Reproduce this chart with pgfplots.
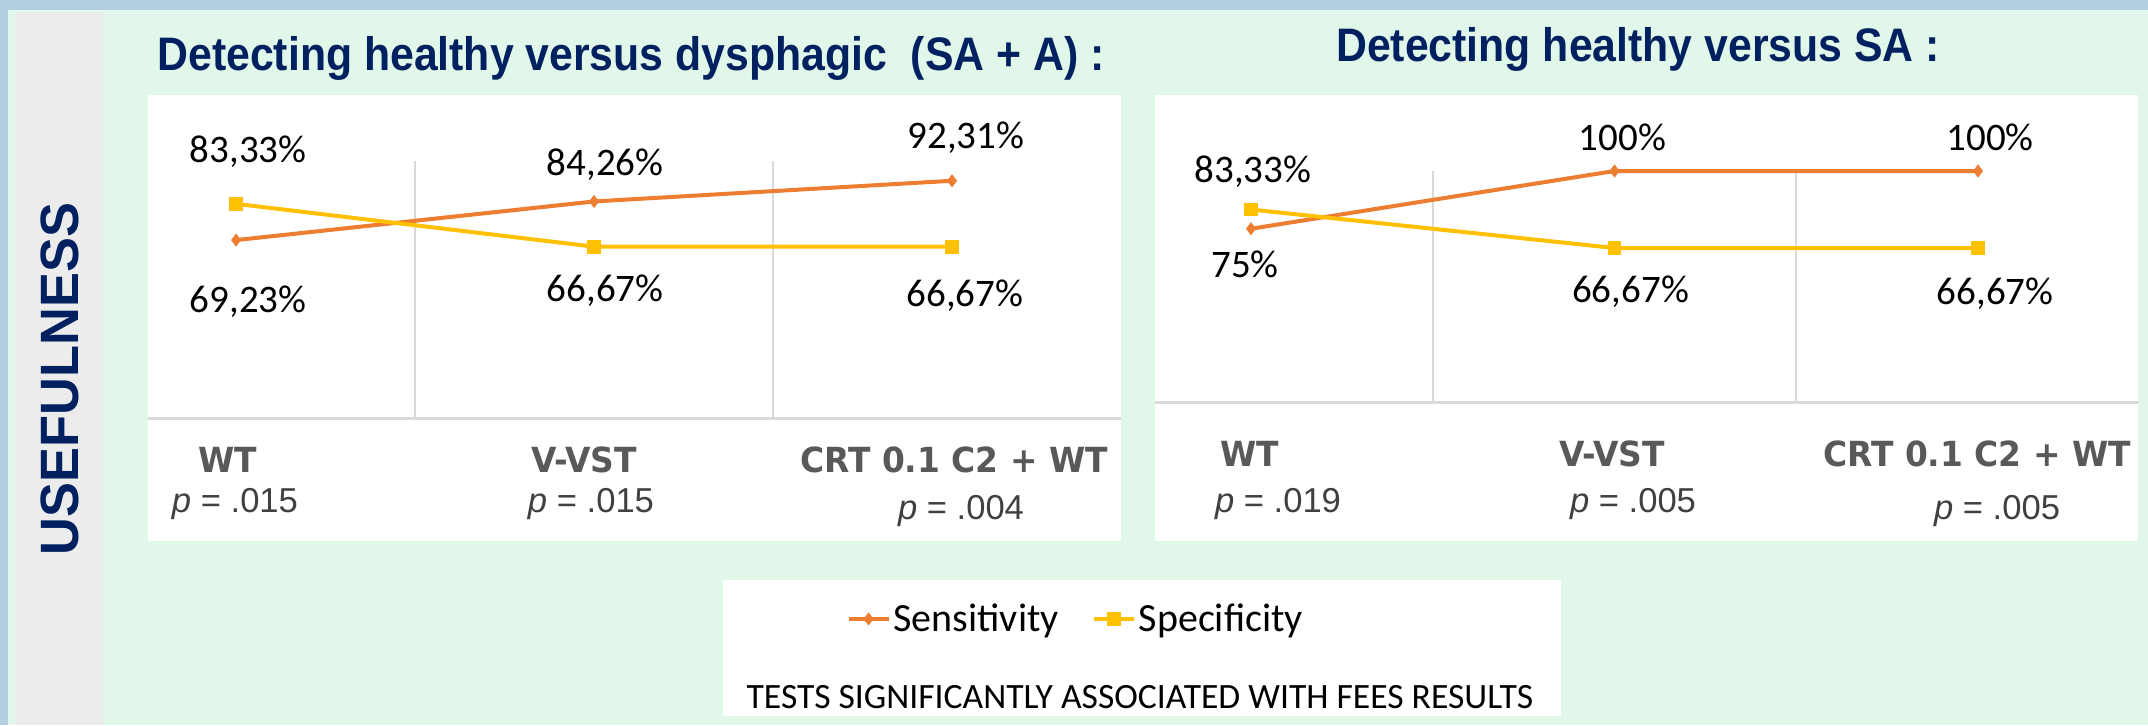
\documentclass[border=0pt]{standalone}
\usepackage{fontspec}
\setmainfont{Carlito}
\newfontfamily\titlefont[FakeStretch=0.91]{Liberation Sans}
\newfontfamily\sidefont[FakeStretch=0.97]{Liberation Sans}
\newfontfamily\pfont{Liberation Sans}
\newfontfamily\catfont[FakeStretch=0.95]{DejaVu Sans}
\usepackage{pgfplots}
\pgfplotsset{compat=1.18}

\definecolor{bgmint}{RGB}{224,247,234}
\definecolor{bandblue}{RGB}{178,208,226}
\definecolor{stripgray}{RGB}{236,236,236}
\definecolor{navy}{RGB}{0,32,96}
\definecolor{sensorange}{RGB}{237,125,49}
\definecolor{specyellow}{RGB}{255,192,0}
\definecolor{axgray}{RGB}{217,217,217}
\definecolor{catgray}{RGB}{89,89,89}
\definecolor{pgray}{RGB}{64,64,64}

\pgfplotsset{
  panel/.style={
    scale only axis, clip=false,
    ymin=0, ymax=100,
    axis x line*=bottom, axis y line=none,
    axis line style={draw=axgray, line width=1.5pt, -},
    xtick={0.5,1.5}, xticklabels={}, major tick length=0pt,
    ytick=\empty,
    xmajorgrids, grid style={draw=axgray, line width=0.8pt},
  },
  sens/.style={sensorange, line width=2pt, mark=diamond*, mark size=2.9pt,
    mark options={line width=0.5pt}},
  spec/.style={specyellow, line width=2pt, mark=square*, mark size=3.2pt,
    mark options={line width=0.5pt}},
}
\tikzset{
  pct/.style={font=\fontsize{19.5}{20}\selectfont, inner sep=0pt, anchor=center},
  cat/.style={font=\catfont\bfseries\fontsize{17.3}{18}\selectfont, text=catgray, inner sep=0pt, anchor=base},
  pval/.style={font=\pfont\fontsize{17.3}{18}\selectfont, text=pgray, inner sep=0pt, anchor=base},
}

\begin{document}
\begin{tikzpicture}
% background, in pixel units of the reference (y downwards)
\begin{scope}[x=0.5pt,y=-0.5pt]
\fill[bgmint] (0,0) rectangle (2148,725);
\fill[bandblue] (0,0) rectangle (2148,10);
\fill[bandblue] (0,0) rectangle (8,725);
\fill[stripgray] (15,12) rectangle (103,725);
\fill[white] (148,95) rectangle (1121,541);
\fill[white] (1155,95) rectangle (2138,541);
\fill[white] (723,580) rectangle (1561,716);
\end{scope}

% left panel: healthy vs dysphagic (SA + A)
\begin{axis}[panel, at={(74pt,-209pt)}, anchor=south west,
  width=486.5pt, height=128.5pt, xmin=-0.246, xmax=2.472,
  legend columns=2,
  legend style={at={(0.954,-0.782)}, anchor=center, draw=none, fill=none,
    font=\fontsize{20}{22}\selectfont, inner sep=0pt,
    nodes={inner sep=1.5pt},
    /tikz/every even column/.append style={column sep=15pt}},
  legend image code/.code={\draw[mark repeat=2,mark phase=2,#1]
    plot coordinates {(0pt,0pt) (10pt,0pt) (20pt,0pt)};},
]
\addplot[sens] coordinates {(0,69.23) (1,84.26) (2,92.31)};
\addlegendentry{Sensitivity}
\addplot[spec] coordinates {(0,83.33) (1,66.67) (2,66.67)};
\addlegendentry{Specificity}
\node[pct] at (axis cs:0,83.33) [xshift=6pt,yshift=26pt] {83,33\%};
\node[pct] at (axis cs:0,69.23) [xshift=6pt,yshift=-31pt] {69,23\%};
\node[pct] at (axis cs:1,84.26) [xshift=5.5pt,yshift=18.5pt] {84,26\%};
\node[pct] at (axis cs:2,92.31) [xshift=7pt,yshift=21.5pt] {92,31\%};
\node[pct] at (axis cs:1,66.67) [xshift=5.5pt,yshift=-22pt] {66,67\%};
\node[pct] at (axis cs:2,66.67) [xshift=6.5pt,yshift=-24.5pt] {66,67\%};
\end{axis}

% right panel: healthy vs SA
\begin{axis}[panel, at={(577.5pt,-201pt)}, anchor=south west,
  width=491.5pt, height=115.5pt, xmin=-0.264, xmax=2.440]
\addplot[sens] coordinates {(0,75) (1,100) (2,100)};
\addplot[spec] coordinates {(0,83.33) (1,66.67) (2,66.67)};
\node[pct] at (axis cs:1,100) [xshift=4pt,yshift=17pt] {100\%};
\node[pct] at (axis cs:2,100) [xshift=6pt,yshift=17pt] {100\%};
\node[pct] at (axis cs:0,83.33) [xshift=1pt,yshift=19pt] {83,33\%};
\node[pct] at (axis cs:0,75) [xshift=-3pt,yshift=-18pt] {75\%};
\node[pct] at (axis cs:1,66.67) [xshift=8pt,yshift=-22pt] {66,67\%};
\node[pct] at (axis cs:2,66.67) [xshift=8.5pt,yshift=-23pt] {66,67\%};
\end{axis}

\begin{scope}[x=0.5pt,y=-0.5pt]
% titles
\node[anchor=base, inner sep=0pt, text=navy, font=\titlefont\bfseries\fontsize{23.5}{25}\selectfont]
  at (631,70) {Detecting healthy versus dysphagic\ \ (SA + A) :};
\node[anchor=base, inner sep=0pt, text=navy, font=\titlefont\bfseries\fontsize{23.5}{25}\selectfont]
  at (1638,61) {Detecting healthy versus SA :};
% side label
\node[rotate=90, inner sep=0pt, text=navy, font=\sidefont\bfseries\fontsize{27}{28}\selectfont]
  at (60,379) {USEFULNESS};
% category names and p values, left
\node[cat] at (228,472) {WT};
\node[cat] at (584,472) {V-VST};
\node[cat] at (954,472) {CRT 0.1 C2 + WT};
\node[pval] at (235,512) {\textit{p} = .015};
\node[pval] at (591,512) {\textit{p} = .015};
\node[pval] at (961,519) {\textit{p} = .004};
% category names and p values, right
\node[cat] at (1250,466) {WT};
\node[cat] at (1612,466) {V-VST};
\node[cat] at (1977,466) {CRT 0.1 C2 + WT};
\node[pval] at (1278,512) {\textit{p} = .019};
\node[pval] at (1633,512) {\textit{p} = .005};
\node[pval] at (1997,519) {\textit{p} = .005};
% caption in legend box
\node[inner sep=0pt, font=\fontsize{17.8}{19}\selectfont] at (1140,697)
  {TESTS SIGNIFICANTLY ASSOCIATED WITH FEES RESULTS};
\end{scope}

\pgfresetboundingbox
\path[use as bounding box] (0pt,0pt) rectangle (1074pt,-362.5pt);
\end{tikzpicture}
\end{document}
